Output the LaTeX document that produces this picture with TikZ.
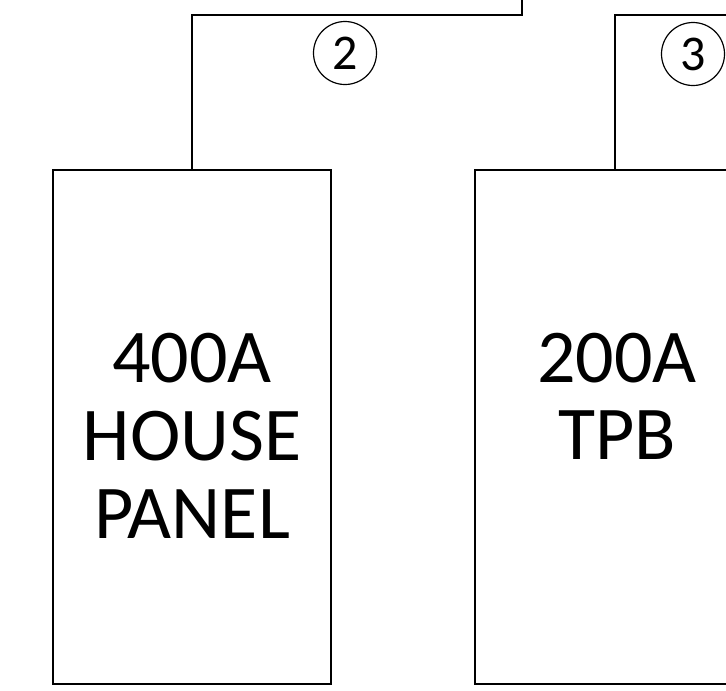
\documentclass[tikz,border=0pt]{standalone}
\usepackage{fontspec}
\setmainfont{Carlito}
\begin{document}
\begin{tikzpicture}[x=1pt,y=-1pt,
  panel/.style={draw,line width=1.5pt,minimum width=278pt,minimum height=514pt,inner sep=0pt},
  paneltext/.style={font=\fontsize{76}{78}\selectfont,align=center},
  feed/.style={draw,line width=1.5pt},
  tag/.style={circle,draw,line width=1.2pt,minimum size=63pt,inner sep=0pt,font=\fontsize{50}{50}\selectfont}]
\useasboundingbox (0,0) rectangle (726,691);
\clip (0,0) rectangle (726,691);
\node[panel] (house) at (192,427) {};
\node[panel] (tpb) at (614,427) {};
\node[paneltext,anchor=base] (housetxt) at (192,382) {400A};
\node[paneltext,anchor=base] (housetxt2) at (192,460) {HOUSE};
\node[paneltext,anchor=base] (housetxt3) at (192,538) {PANEL};
\node[paneltext,anchor=base] (tpbtxt) at (617,382) {200A};
\node[paneltext,anchor=base] (tpbtxt2) at (617,459) {TPB};
\coordinate (h1) at (192,15);
\coordinate (h2) at (522,15);
\coordinate (h3) at (522,0);
\coordinate (t1) at (615,15);
\coordinate (t2) at (740,15);
\draw[feed] (house.north -| h1) -- (h1) -- (h2) -- (h3);
\draw[feed] (tpb.north -| t1) -- (t1) -- (t2);
\node[tag] (c2) at (345,53) {2};
\node[tag] (c3) at (693,54) {3};
\end{tikzpicture}
\end{document}
